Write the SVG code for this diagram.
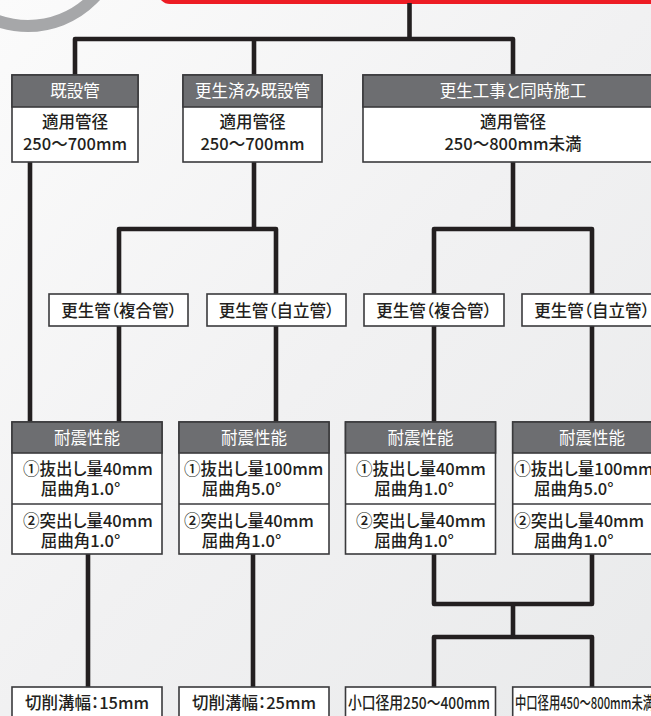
<svg xmlns="http://www.w3.org/2000/svg" width="651" height="716" viewBox="0 0 651 716">
<defs>
<linearGradient id="bg" x1="0" y1="0" x2="1" y2="1">
<stop offset="0" stop-color="#fbfbfb"/>
<stop offset="0.5" stop-color="#f1f1f2"/>
<stop offset="1" stop-color="#e9eaeb"/>
</linearGradient>
<style>
.box{fill:#ffffff;stroke:#3a3a3c;stroke-width:1.6}
.hdr{fill:#6d6e71;stroke:#3a3a3c;stroke-width:1.6}
.div{stroke:#3a3a3c;stroke-width:1.6}
text{font-family:"Noto Sans CJK JP","Noto Sans",sans-serif;font-size:16.5px;font-weight:500;fill:#231f20;font-feature-settings:"palt"}
.w{fill:#ffffff;font-weight:400}
.c{text-anchor:middle}
.conn{fill:none;stroke:#231f20;stroke-width:4.6;stroke-linejoin:round}
</style>
</defs>
<rect x="0" y="0" width="651" height="716" fill="url(#bg)"/>
<circle cx="28" cy="-65" r="91" fill="none" stroke="#a6a7a9" stroke-width="12"/>
<rect x="158" y="-30" width="600" height="34" rx="12" fill="#ed1c24"/>

<g id="connectors" class="conn">
<path d="M409.5 3 V39"/>
<path d="M75 75 V39 H513 V75"/>
<path d="M254 39 V75"/>
<path d="M30 162 V422"/>
<path d="M254 162 V229"/>
<path d="M119 294 V229 H276 V294"/>
<path d="M513 162 V229"/>
<path d="M434 294 V229 H592 V294"/>
<path d="M119 326 V422"/>
<path d="M276 326 V422"/>
<path d="M434 326 V422"/>
<path d="M592 326 V422"/>
<path d="M88 554 V687"/>
<path d="M253 554 V687"/>
<path d="M434 554 V604 H592 V554"/>
<path d="M513 604 V637"/>
<path d="M434 687 V637 H592 V687"/>
</g>

<g id="kisetsukan">
<rect class="box" x="12" y="75" width="126" height="87"/>
<rect class="hdr" x="12" y="75" width="126" height="32"/>
<text class="w c" x="75" y="97">既設管</text>
<text class="c" x="75" y="128">適用管径</text>
<text class="c" x="75" y="150">250〜700mm</text>
</g>

<g id="koseizumi">
<rect class="box" x="183" y="75" width="139" height="87"/>
<rect class="hdr" x="183" y="75" width="139" height="32"/>
<text class="w c" x="252.5" y="97">更生済み既設管</text>
<text class="c" x="252.5" y="128">適用管径</text>
<text class="c" x="252.5" y="150">250〜700mm</text>
</g>

<g id="doji">
<rect class="box" x="363" y="75" width="300" height="87"/>
<rect class="hdr" x="363" y="75" width="300" height="32"/>
<text class="w c" x="513" y="97">更生工事と同時施工</text>
<text class="c" x="513" y="128">適用管径</text>
<text class="c" x="513" y="150">250〜800mm未満</text>
</g>

<g id="sub-a">
<rect class="box" x="49" y="294" width="139" height="32"/>
<text class="c" x="119" y="316.5">更生管（複合管）</text>
</g>
<g id="sub-b">
<rect class="box" x="207" y="294" width="139" height="32"/>
<text class="c" x="276.5" y="316.5">更生管（自立管）</text>
</g>
<g id="sub-c">
<rect class="box" x="364" y="294" width="140" height="32"/>
<text class="c" x="434" y="316.5">更生管（複合管）</text>
</g>
<g id="sub-d">
<rect class="box" x="522" y="294" width="140" height="32"/>
<text class="c" x="592" y="316.5">更生管（自立管）</text>
</g>

<g id="taishin-1">
<rect class="box" x="12" y="422" width="150" height="132"/>
<rect class="hdr" x="12" y="422" width="150" height="31"/>
<line class="div" x1="12" y1="504" x2="162" y2="504"/>
<text class="w c" x="87" y="444">耐震性能</text>
<text x="23" y="474.5">①抜出し量40mm</text>
<text x="40.7" y="495">屈曲角1.0°</text>
<text x="23" y="526.5">②突出し量40mm</text>
<text x="40.7" y="546.5">屈曲角1.0°</text>
</g>

<g id="taishin-2">
<rect class="box" x="179" y="422" width="150" height="132"/>
<rect class="hdr" x="179" y="422" width="150" height="31"/>
<line class="div" x1="179" y1="504" x2="329" y2="504"/>
<text class="w c" x="254" y="444">耐震性能</text>
<text x="184" y="474.5">①抜出し量100mm</text>
<text x="201.7" y="495">屈曲角5.0°</text>
<text x="184" y="526.5">②突出し量40mm</text>
<text x="201.7" y="546.5">屈曲角1.0°</text>
</g>

<g id="taishin-3">
<rect class="box" x="345.5" y="422" width="150" height="132"/>
<rect class="hdr" x="345.5" y="422" width="150" height="31"/>
<line class="div" x1="345.5" y1="504" x2="495.5" y2="504"/>
<text class="w c" x="420.5" y="444">耐震性能</text>
<text x="356" y="474.5">①抜出し量40mm</text>
<text x="374.3" y="495">屈曲角1.0°</text>
<text x="356" y="526.5">②突出し量40mm</text>
<text x="374.3" y="546.5">屈曲角1.0°</text>
</g>

<g id="taishin-4">
<rect class="box" x="512.7" y="422" width="150" height="132"/>
<rect class="hdr" x="512.7" y="422" width="150" height="31"/>
<line class="div" x1="512.7" y1="504" x2="662.7" y2="504"/>
<text class="w c" x="592" y="444">耐震性能</text>
<text x="514.3" y="474.5">①抜出し量100mm</text>
<text x="534" y="495">屈曲角5.0°</text>
<text x="514.3" y="526.5">②突出し量40mm</text>
<text x="534" y="546.5">屈曲角1.0°</text>
</g>

<g id="cut-1">
<rect class="box" x="12" y="687" width="150" height="40"/>
<text class="c" x="87" y="708.5">切削溝幅：15mm</text>
</g>
<g id="cut-2">
<rect class="box" x="179" y="687" width="150" height="40"/>
<text class="c" x="254" y="708.5">切削溝幅：25mm</text>
</g>
<g id="small">
<rect class="box" x="345.5" y="687" width="150" height="40"/>
<text x="348" y="708.5" textLength="142" lengthAdjust="spacingAndGlyphs">小口径用250〜400mm</text>
</g>
<g id="medium">
<rect class="box" x="512.7" y="687" width="150" height="40"/>
<text x="515" y="708.5" textLength="139" lengthAdjust="spacingAndGlyphs">中口径用450〜800mm未満</text>
</g>
</svg>
